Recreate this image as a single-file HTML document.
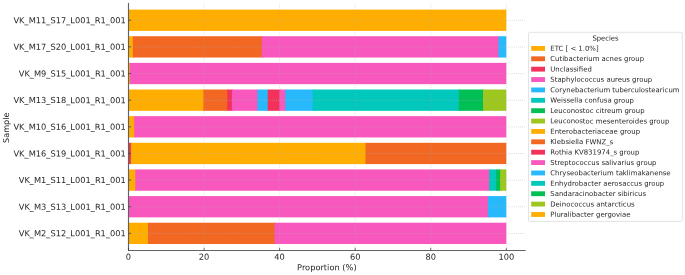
<!DOCTYPE html>
<html><head><meta charset="utf-8"><title>Species proportion chart</title>
<style>
html,body{margin:0;padding:0;background:#fff}
svg{display:block}
text{font-family:"DejaVu Sans","Liberation Sans",sans-serif;fill:#262626}
.t{font-size:8.27px}
.l{font-size:6.91px}
</style></head><body>
<svg width="685" height="275" viewBox="0 0 685 275">
<rect width="685" height="275" fill="#fff"/>
<rect x="128.50" y="9.60" width="377.80" height="21.30" fill="#FFAE00"/>
<rect x="128.50" y="36.24" width="5.35" height="21.30" fill="#FFAE00"/>
<rect x="132.85" y="36.24" width="129.95" height="21.30" fill="#F26722"/>
<rect x="261.80" y="36.24" width="237.60" height="21.30" fill="#F858BE"/>
<rect x="498.40" y="36.24" width="7.90" height="21.30" fill="#27B9FC"/>
<rect x="128.50" y="62.88" width="2.40" height="21.30" fill="#FFAE00"/>
<rect x="129.90" y="62.88" width="376.40" height="21.30" fill="#F858BE"/>
<rect x="128.50" y="89.52" width="75.80" height="21.30" fill="#FFAE00"/>
<rect x="203.30" y="89.52" width="24.90" height="21.30" fill="#F26722"/>
<rect x="227.20" y="89.52" width="5.70" height="21.30" fill="#F2325A"/>
<rect x="231.90" y="89.52" width="26.50" height="21.30" fill="#F858BE"/>
<rect x="257.40" y="89.52" width="11.30" height="21.30" fill="#27B9FC"/>
<rect x="267.70" y="89.52" width="12.80" height="21.30" fill="#F2325A"/>
<rect x="279.50" y="89.52" width="6.70" height="21.30" fill="#F858BE"/>
<rect x="285.20" y="89.52" width="28.40" height="21.30" fill="#27B9FC"/>
<rect x="312.60" y="89.52" width="147.30" height="21.30" fill="#00C8BC"/>
<rect x="458.90" y="89.52" width="25.10" height="21.30" fill="#00BF55"/>
<rect x="483.00" y="89.52" width="23.30" height="21.30" fill="#9DC71F"/>
<rect x="128.50" y="116.16" width="6.70" height="21.30" fill="#FFAE00"/>
<rect x="134.20" y="116.16" width="372.10" height="21.30" fill="#F858BE"/>
<rect x="128.50" y="142.80" width="3.40" height="21.30" fill="#F2325A"/>
<rect x="130.90" y="142.80" width="235.60" height="21.30" fill="#FFAE00"/>
<rect x="365.50" y="142.80" width="140.80" height="21.30" fill="#F26722"/>
<rect x="128.50" y="169.44" width="7.80" height="21.30" fill="#FFAE00"/>
<rect x="135.30" y="169.44" width="354.90" height="21.30" fill="#F858BE"/>
<rect x="489.20" y="169.44" width="8.00" height="21.30" fill="#00C8BC"/>
<rect x="496.20" y="169.44" width="4.90" height="21.30" fill="#00BF55"/>
<rect x="500.10" y="169.44" width="6.20" height="21.30" fill="#9DC71F"/>
<rect x="128.50" y="196.08" width="360.40" height="21.30" fill="#F858BE"/>
<rect x="487.90" y="196.08" width="18.40" height="21.30" fill="#27B9FC"/>
<rect x="128.50" y="222.72" width="20.50" height="21.30" fill="#FFAE00"/>
<rect x="148.00" y="222.72" width="127.50" height="21.30" fill="#F26722"/>
<rect x="274.50" y="222.72" width="231.80" height="21.30" fill="#F858BE"/>
<g stroke="#b0b0b0" stroke-width="0.8" stroke-dasharray="0.8 1.25" fill="none">
<g stroke-opacity="0.5">
<line x1="204.06" y1="2.94" x2="204.06" y2="250.45"/>
<line x1="279.62" y1="2.94" x2="279.62" y2="250.45"/>
<line x1="355.18" y1="2.94" x2="355.18" y2="250.45"/>
<line x1="430.74" y1="2.94" x2="430.74" y2="250.45"/>
<line x1="506.30" y1="2.94" x2="506.30" y2="250.45"/>
</g>
<g stroke-opacity="0.68">
<line x1="128.50" y1="20.35" x2="525.19" y2="20.35"/>
<line x1="128.50" y1="46.99" x2="525.19" y2="46.99"/>
<line x1="128.50" y1="73.63" x2="525.19" y2="73.63"/>
<line x1="128.50" y1="100.27" x2="525.19" y2="100.27"/>
<line x1="128.50" y1="126.91" x2="525.19" y2="126.91"/>
<line x1="128.50" y1="153.55" x2="525.19" y2="153.55"/>
<line x1="128.50" y1="180.19" x2="525.19" y2="180.19"/>
<line x1="128.50" y1="206.83" x2="525.19" y2="206.83"/>
<line x1="128.50" y1="233.47" x2="525.19" y2="233.47"/>
</g>
</g>
<g stroke="#626262" stroke-width="1.15" fill="none">
<line x1="128.50" y1="2.94" x2="128.50" y2="250.95"/>
<line x1="128.00" y1="250.45" x2="525.59" y2="250.45"/>
</g>
<g stroke="#333" stroke-width="0.7" fill="none">
<line x1="128.50" y1="250.45" x2="128.50" y2="247.85"/>
<line x1="204.06" y1="250.45" x2="204.06" y2="247.85"/>
<line x1="279.62" y1="250.45" x2="279.62" y2="247.85"/>
<line x1="355.18" y1="250.45" x2="355.18" y2="247.85"/>
<line x1="430.74" y1="250.45" x2="430.74" y2="247.85"/>
<line x1="506.30" y1="250.45" x2="506.30" y2="247.85"/>
<line x1="128.50" y1="20.25" x2="131.10" y2="20.25"/>
<line x1="128.50" y1="46.89" x2="131.10" y2="46.89"/>
<line x1="128.50" y1="73.53" x2="131.10" y2="73.53"/>
<line x1="128.50" y1="100.17" x2="131.10" y2="100.17"/>
<line x1="128.50" y1="126.81" x2="131.10" y2="126.81"/>
<line x1="128.50" y1="153.45" x2="131.10" y2="153.45"/>
<line x1="128.50" y1="180.09" x2="131.10" y2="180.09"/>
<line x1="128.50" y1="206.73" x2="131.10" y2="206.73"/>
<line x1="128.50" y1="233.37" x2="131.10" y2="233.37"/>
</g>
<g class="t">
<text transform="rotate(0.03 125.80 23.25)" x="125.80" y="23.25" text-anchor="end">VK_M11_S17_L001_R1_001</text>
<text transform="rotate(0.03 125.80 49.89)" x="125.80" y="49.89" text-anchor="end">VK_M17_S20_L001_R1_001</text>
<text transform="rotate(0.03 125.80 76.53)" x="125.80" y="76.53" text-anchor="end">VK_M9_S15_L001_R1_001</text>
<text transform="rotate(0.03 125.80 103.17)" x="125.80" y="103.17" text-anchor="end">VK_M13_S18_L001_R1_001</text>
<text transform="rotate(0.03 125.80 129.81)" x="125.80" y="129.81" text-anchor="end">VK_M10_S16_L001_R1_001</text>
<text transform="rotate(0.03 125.80 156.45)" x="125.80" y="156.45" text-anchor="end">VK_M16_S19_L001_R1_001</text>
<text transform="rotate(0.03 125.80 183.09)" x="125.80" y="183.09" text-anchor="end">VK_M1_S11_L001_R1_001</text>
<text transform="rotate(0.03 125.80 209.73)" x="125.80" y="209.73" text-anchor="end">VK_M3_S13_L001_R1_001</text>
<text transform="rotate(0.03 125.80 236.37)" x="125.80" y="236.37" text-anchor="end">VK_M2_S12_L001_R1_001</text>
<text transform="rotate(0.03 128.50 259.70)" x="128.50" y="259.70" text-anchor="middle">0</text>
<text transform="rotate(0.03 204.06 259.70)" x="204.06" y="259.70" text-anchor="middle">20</text>
<text transform="rotate(0.03 279.62 259.70)" x="279.62" y="259.70" text-anchor="middle">40</text>
<text transform="rotate(0.03 355.18 259.70)" x="355.18" y="259.70" text-anchor="middle">60</text>
<text transform="rotate(0.03 430.74 259.70)" x="430.74" y="259.70" text-anchor="middle">80</text>
<text transform="rotate(0.03 506.30 259.70)" x="506.30" y="259.70" text-anchor="middle">100</text>
<text transform="rotate(0.03 326.85 270.20)" x="326.85" y="270.20" text-anchor="middle">Proportion (%)</text>
<text transform="translate(9.0 127.75) rotate(-90.03)" text-anchor="middle" style="font-size:8.12px">Sample</text>
</g>
<rect x="528.5" y="32.3" width="153.8" height="189.1" rx="1.6" ry="1.6" fill="#fff" stroke="#cccccc" stroke-opacity="0.8" stroke-width="0.7"/>
<g class="l">

<text style="font-size:6.78px" transform="rotate(0.03 605.45 40.60)" x="605.45" y="40.60" text-anchor="middle">Species</text>
<rect x="531.2" y="45.98" width="13.8" height="4.85" fill="#FFAE00"/><text transform="rotate(0.03 550.30 50.70)" x="550.30" y="50.70">ETC [ &lt; 1.0%]</text>
<rect x="531.2" y="56.36" width="13.8" height="4.85" fill="#F26722"/><text transform="rotate(0.03 550.30 61.08)" x="550.30" y="61.08">Cutibacterium acnes group</text>
<rect x="531.2" y="66.74" width="13.8" height="4.85" fill="#F2325A"/><text transform="rotate(0.03 550.30 71.46)" x="550.30" y="71.46">Unclassified</text>
<rect x="531.2" y="77.12" width="13.8" height="4.85" fill="#F858BE"/><text transform="rotate(0.03 550.30 81.84)" x="550.30" y="81.84">Staphylococcus aureus group</text>
<rect x="531.2" y="87.50" width="13.8" height="4.85" fill="#27B9FC"/><text transform="rotate(0.03 550.30 92.22)" x="550.30" y="92.22">Corynebacterium tuberculostearicum</text>
<rect x="531.2" y="97.88" width="13.8" height="4.85" fill="#00C8BC"/><text transform="rotate(0.03 550.30 102.60)" x="550.30" y="102.60">Weissella confusa group</text>
<rect x="531.2" y="108.26" width="13.8" height="4.85" fill="#00BF55"/><text transform="rotate(0.03 550.30 112.98)" x="550.30" y="112.98">Leuconostoc citreum group</text>
<rect x="531.2" y="118.64" width="13.8" height="4.85" fill="#9DC71F"/><text transform="rotate(0.03 550.30 123.36)" x="550.30" y="123.36">Leuconostoc mesenteroides group</text>
<rect x="531.2" y="129.02" width="13.8" height="4.85" fill="#FFAE00"/><text transform="rotate(0.03 550.30 133.74)" x="550.30" y="133.74">Enterobacteriaceae group</text>
<rect x="531.2" y="139.40" width="13.8" height="4.85" fill="#F26722"/><text transform="rotate(0.03 550.30 144.12)" x="550.30" y="144.12">Klebsiella FWNZ_s</text>
<rect x="531.2" y="149.78" width="13.8" height="4.85" fill="#F2325A"/><text transform="rotate(0.03 550.30 154.50)" x="550.30" y="154.50">Rothia KV831974_s group</text>
<rect x="531.2" y="160.16" width="13.8" height="4.85" fill="#F858BE"/><text transform="rotate(0.03 550.30 164.88)" x="550.30" y="164.88">Streptococcus salivarius group</text>
<rect x="531.2" y="170.54" width="13.8" height="4.85" fill="#27B9FC"/><text transform="rotate(0.03 550.30 175.26)" x="550.30" y="175.26">Chryseobacterium taklimakanense</text>
<rect x="531.2" y="180.92" width="13.8" height="4.85" fill="#00C8BC"/><text transform="rotate(0.03 550.30 185.64)" x="550.30" y="185.64">Enhydrobacter aerosaccus group</text>
<rect x="531.2" y="191.30" width="13.8" height="4.85" fill="#00BF55"/><text transform="rotate(0.03 550.30 196.02)" x="550.30" y="196.02">Sandaracinobacter sibiricus</text>
<rect x="531.2" y="201.68" width="13.8" height="4.85" fill="#9DC71F"/><text transform="rotate(0.03 550.30 206.40)" x="550.30" y="206.40">Deinococcus antarcticus</text>
<rect x="531.2" y="212.06" width="13.8" height="4.85" fill="#FFAE00"/><text transform="rotate(0.03 550.30 216.78)" x="550.30" y="216.78">Pluralibacter gergoviae</text>
</g>
</svg>
</body></html>
